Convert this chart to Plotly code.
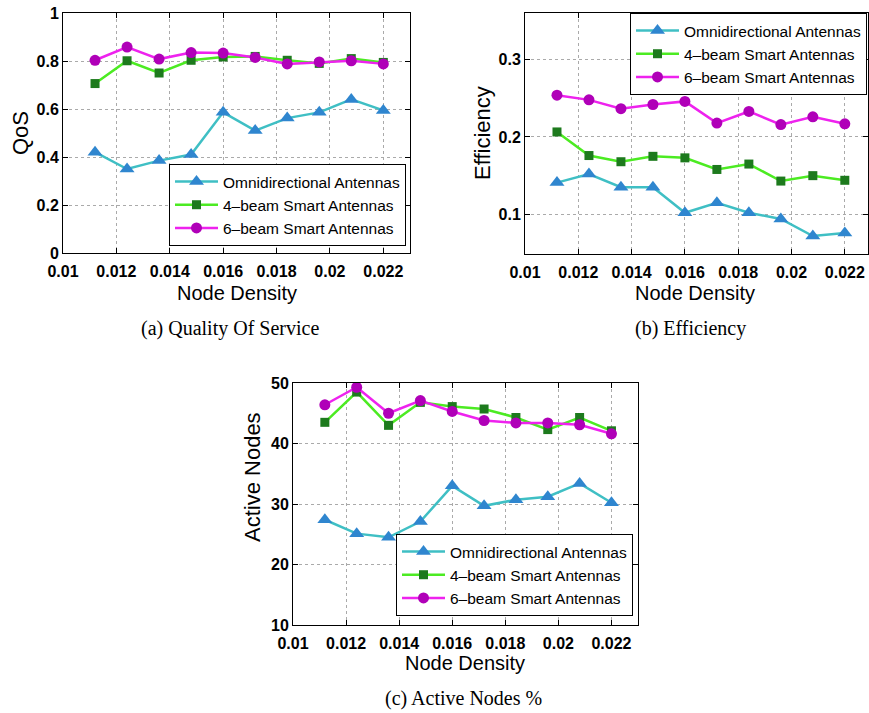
import plotly.graph_objects as go

node_density = [0.0112, 0.0124, 0.0136, 0.0148, 0.0160, 0.0172, 0.0184, 0.0196, 0.0208, 0.0220]
series_names = ["Omnidirectional Antennas", "4\u2013beam Smart Antennas", "6\u2013beam Smart Antennas"]

qos_omni = [0.42, 0.35, 0.385, 0.41, 0.586, 0.51, 0.562, 0.586, 0.64, 0.594]
qos_4beam = [0.706, 0.801, 0.75, 0.803, 0.817, 0.819, 0.803, 0.79, 0.81, 0.794]
qos_6beam = [0.803, 0.858, 0.808, 0.835, 0.833, 0.815, 0.788, 0.796, 0.801, 0.788]

eff_omni = [0.141, 0.152, 0.135, 0.135, 0.102, 0.115, 0.102, 0.094, 0.072, 0.076]
eff_4beam = [0.2065, 0.176, 0.168, 0.175, 0.173, 0.158, 0.165, 0.143, 0.150, 0.144]
eff_6beam = [0.254, 0.248, 0.2366, 0.242, 0.246, 0.218, 0.233, 0.216, 0.226, 0.217]

act_omni = [27.4, 25.1, 24.5, 27.1, 33.0, 29.7, 30.7, 31.2, 33.4, 30.2]
act_4beam = [43.5, 48.5, 43.0, 46.8, 46.1, 45.7, 44.3, 42.3, 44.3, 42.1]
act_6beam = [46.4, 49.3, 45.0, 47.1, 45.3, 43.8, 43.4, 43.4, 43.1, 41.6]

x_tickvals = [0.010, 0.012, 0.014, 0.016, 0.018, 0.020, 0.022]
x_ticktext = ["0.01", "0.012", "0.014", "0.016", "0.018", "0.02", "0.022"]
qos_tickvals = [0, 0.2, 0.4, 0.6, 0.8, 1.0]
qos_ticktext = ["0", "0.2", "0.4", "0.6", "0.8", "1"]
eff_tickvals = [0.1, 0.2, 0.3]
eff_ticktext = ["0.1", "0.2", "0.3"]
act_tickvals = [10, 20, 30, 40, 50]
act_ticktext = ["10", "20", "30", "40", "50"]

W, H = 869, 713

styles = [
    dict(line=dict(color="#3FBFC4", width=2.5),
         marker=dict(symbol="triangle-up", size=13, color="#2F86CF", line=dict(width=0))),
    dict(line=dict(color="#4CEB22", width=2.5),
         marker=dict(symbol="square", size=9, color="#1D7A1D", line=dict(width=0))),
    dict(line=dict(color="#EE22EE", width=2.5),
         marker=dict(symbol="circle", size=11, color="#B000B8", line=dict(width=0))),
]

fig = go.Figure()

panels = [
    ("x", "y", "legend", [qos_omni, qos_4beam, qos_6beam]),
    ("x2", "y2", "legend2", [eff_omni, eff_4beam, eff_6beam]),
    ("x3", "y3", "legend3", [act_omni, act_4beam, act_6beam]),
]
for xa, ya, lg, data in panels:
    for name, vals, st in zip(series_names, data, styles):
        fig.add_trace(go.Scatter(x=node_density, y=vals, name=name, mode="lines+markers",
                                 xaxis=xa, yaxis=ya, legend=lg, line=st["line"], marker=st["marker"]))

def px_x(p):
    return p / W

def px_y(p):
    return 1 - p / H

tickfont = dict(family="Liberation Sans, Arial", size=16, color="black")
def axis_common():
    return dict(showline=True, linecolor="black", linewidth=1, mirror="ticks",
                ticks="inside", ticklen=5, tickcolor="black", tickwidth=1,
                showgrid=True, gridcolor="#AAAAAA", griddash="dot", gridwidth=1,
                zeroline=False, tickfont=tickfont, automargin=False)

def bold(t):
    return ["<b>%s</b>" % s for s in t]

fig.update_layout(
    width=W, height=H, margin=dict(l=0, r=0, t=0, b=0),
    paper_bgcolor="white", plot_bgcolor="white",
    xaxis=dict(domain=[px_x(63), px_x(410)], range=[0.01, 0.023], anchor="y", ticklabelstandoff=4,
               tickvals=x_tickvals, ticktext=bold(x_ticktext), **axis_common()),
    yaxis=dict(domain=[px_y(253), px_y(13)], range=[0, 1], anchor="x",
               tickvals=qos_tickvals, ticktext=bold(qos_ticktext), **axis_common()),
    xaxis2=dict(domain=[px_x(525), px_x(868)], range=[0.01, 0.02287], anchor="y2", ticklabelstandoff=4,
                tickvals=x_tickvals, ticktext=bold(x_ticktext), **axis_common()),
    yaxis2=dict(domain=[px_y(254), px_y(13)], range=[0.0487, 0.3603], anchor="x2",
                tickvals=eff_tickvals, ticktext=bold(eff_ticktext), **axis_common()),
    xaxis3=dict(domain=[px_x(293), px_x(638)], range=[0.01, 0.023], anchor="y3", ticklabelstandoff=4,
                tickvals=x_tickvals, ticktext=bold(x_ticktext), **axis_common()),
    yaxis3=dict(domain=[px_y(625), px_y(383)], range=[10, 50], anchor="x3",
                tickvals=act_tickvals, ticktext=bold(act_ticktext), **axis_common()),
)

legfont = dict(family="Liberation Sans, Arial", size=15.5, color="black")
def leg(xr, yb, xanchor="right", yanchor="bottom"):
    return dict(x=px_x(xr), y=px_y(yb), xanchor=xanchor, yanchor=yanchor,
                bgcolor="white", bordercolor="black", borderwidth=1,
                font=legfont, itemwidth=43, tracegroupgap=0)

fig.update_layout(
    legend=leg(406, 246),
    legend2=leg(867, 13, yanchor="top"),
    legend3=leg(633, 616),
)

xtitlefont = dict(family="Liberation Sans, Arial", size=20, color="black")
ytitlefont = dict(family="Liberation Sans, Arial", size=22, color="black")
capfont = dict(family="Liberation Serif, Times New Roman", size=20, color="black")
annos = [
    (20, 133, "QoS", -90, ytitlefont),
    (237, 293, "Node Density", 0, xtitlefont),
    (230, 328, "(a) Quality Of Service", 0, capfont),
    (482, 133, "Efficiency", -90, ytitlefont),
    (695, 293, "Node Density", 0, xtitlefont),
    (690, 328, "(b) Efficiency", 0, capfont),
    (252, 477, "Active Nodes", -90, ytitlefont),
    (465, 663, "Node Density", 0, xtitlefont),
    (463, 698, "(c) Active Nodes %", 0, capfont),
]
for xp, yp, txt, ang, f in annos:
    fig.add_annotation(x=px_x(xp), y=px_y(yp), xref="paper", yref="paper", text=txt,
                       showarrow=False, textangle=ang, font=f, xanchor="center", yanchor="middle")

fig.write_html("out.html", config={"displayModeBar": False},
               post_script="document.body.style.margin='0';document.body.style.overflow='hidden';")
